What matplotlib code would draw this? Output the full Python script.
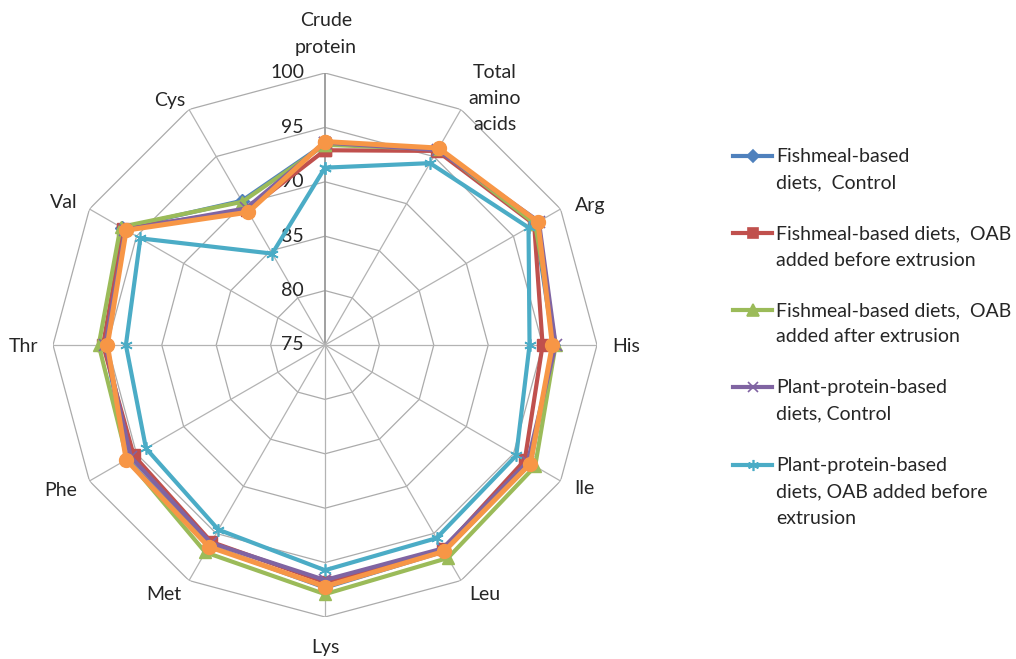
import numpy as np
import matplotlib
matplotlib.use("Agg")
import matplotlib.pyplot as plt
from matplotlib.lines import Line2D
from matplotlib.transforms import offset_copy

plt.rcParams['font.family'] = ['Lato', 'DejaVu Sans']

# amino acid profile values (%), one list per diet
categories = ['Crude\nprotein', 'Total\namino\nacids', 'Arg', 'His', 'Ile', 'Leu',
              'Lys', 'Met', 'Phe', 'Thr', 'Val', 'Cys']
fm_control = [93.5, 95.8, 97.3, 96.0, 96.8, 96.9, 97.3, 96.3, 96.0, 95.2, 96.5, 90.3]
fm_oab_before = [92.9, 95.6, 97.2, 95.0, 96.2, 96.7, 96.8, 95.9, 95.3, 95.4, 96.4, 89.3]
fm_oab_after = [93.4, 95.8, 97.3, 96.2, 97.3, 97.6, 97.9, 97.0, 96.0, 95.8, 96.7, 90.2]
pp_control = [93.6, 95.7, 97.7, 96.2, 96.5, 96.6, 96.6, 96.0, 95.6, 95.2, 96.2, 89.5]
pp_oab_before = [91.3, 94.3, 96.6, 93.8, 95.3, 95.5, 95.7, 94.6, 94.0, 93.3, 94.6, 84.7]
pp_oab_after = [93.7, 95.9, 97.6, 95.9, 96.8, 96.9, 97.2, 96.4, 96.1, 95.0, 96.1, 89.1]

ring_values = [75, 80, 85, 90, 95, 100]

series = [
    ('Fishmeal-based\ndiets,  Control', fm_control, '#4F81BD', 'D', 7),
    ('Fishmeal-based diets,  OAB\nadded before extrusion', fm_oab_before, '#C0504D', 's', 8),
    ('Fishmeal-based diets,  OAB\nadded after extrusion', fm_oab_after, '#9BBB59', '^', 9),
    ('Plant-protein-based\ndiets, Control', pp_control, '#8064A2', 'x', 8),
    ('Plant-protein-based\ndiets, OAB added before\nextrusion', pp_oab_before, '#4BACC6', (6, 2, 0), 9),
    (None, pp_oab_after, '#F79646', 'o', 10),
]

W, H = 1016, 659
fig = plt.figure(figsize=(W / 100, H / 100), dpi=100)
cx, cy, R = 325, 345, 272
ax = fig.add_axes([(cx - R) / W, (H - cy - R) / H, 2 * R / W, 2 * R / H], projection='polar')
ax.set_theta_zero_location('N')
ax.set_theta_direction(-1)
ax.set_ylim(75, 100)
ax.grid(False)
ax.spines['polar'].set_visible(False)
ax.set_xticks([])
ax.set_yticks([])
ax.patch.set_alpha(0)

n = len(categories)
angles = np.arange(n) * 2 * np.pi / n
closed = np.append(angles, angles[0])

# polygon rings and spokes
for v in ring_values[1:]:
    ax.plot(closed, [v] * (n + 1), color='#ababab', lw=0.9, zorder=1)
for i, a in enumerate(angles):
    ax.plot([a, a], [75, 100], color='#999999' if i == 0 else '#b3b3b3',
            lw=1.3 if i == 0 else 0.9, zorder=1)

# radial value labels left of the vertical axis
lab_tr = offset_copy(ax.transData, fig=fig, x=-21, y=0, units='dots')
for v in ring_values:
    ax.text(0, v, str(v), ha='right', va='center', fontsize=14, color='#262626',
            transform=lab_tr, zorder=2)

# category labels around the outer ring
cat_pos = [
    (1, 39, 'center', 'center'),
    (34, 11, 'center', 'center'),
    (14, 4, 'left', 'center'),
    (15, -1, 'left', 'center'),
    (14, -8, 'left', 'center'),
    (8, -14, 'left', 'center'),
    (0, -30, 'center', 'center'),
    (-8, -14, 'right', 'center'),
    (-12, -9, 'right', 'center'),
    (-15, -1, 'right', 'center'),
    (-12, 6, 'right', 'center'),
    (-4, 9, 'right', 'center'),
]
for a, lab, (dx, dy, ha, va) in zip(angles, categories, cat_pos):
    tr = offset_copy(ax.transData, fig=fig, x=dx, y=dy, units='dots')
    ax.text(a, 100, lab, ha=ha, va=va, fontsize=14, color='#262626',
            linespacing=1.65, transform=tr, clip_on=False)

for k, (label, vals, color, marker, ms) in enumerate(series):
    lw = 3.6 if color == '#F79646' else 3.0
    ax.plot(closed, list(vals) + [vals[0]], color=color, lw=lw, marker=marker,
            markersize=ms, markeredgecolor=color, markerfacecolor=color,
            markeredgewidth=1.2 if marker in ('x', (6, 2, 0)) else 1,
            zorder=3 + k, clip_on=False)

# legend drawn by hand so the handle lines up with the first text line
leg_y = [156, 233, 310, 387, 465]
for (label, vals, color, marker, ms), y in zip(series[:5], leg_y):
    fy = 1 - y / H
    fig.add_artist(Line2D([733 / W, 772 / W], [fy, fy], color=color, lw=3,
                          transform=fig.transFigure))
    fig.add_artist(Line2D([752.5 / W], [fy], color=color, marker=marker,
                          markersize=ms - 1, markeredgewidth=1.2,
                          transform=fig.transFigure))
    for j, line in enumerate(label.split('\n')):
        fig.text(776 / W, 1 - (y + 1 + 26 * j) / H, line, ha='left', va='center',
                 fontsize=14, color='#262626')

fig.savefig('out.png', dpi=100)
